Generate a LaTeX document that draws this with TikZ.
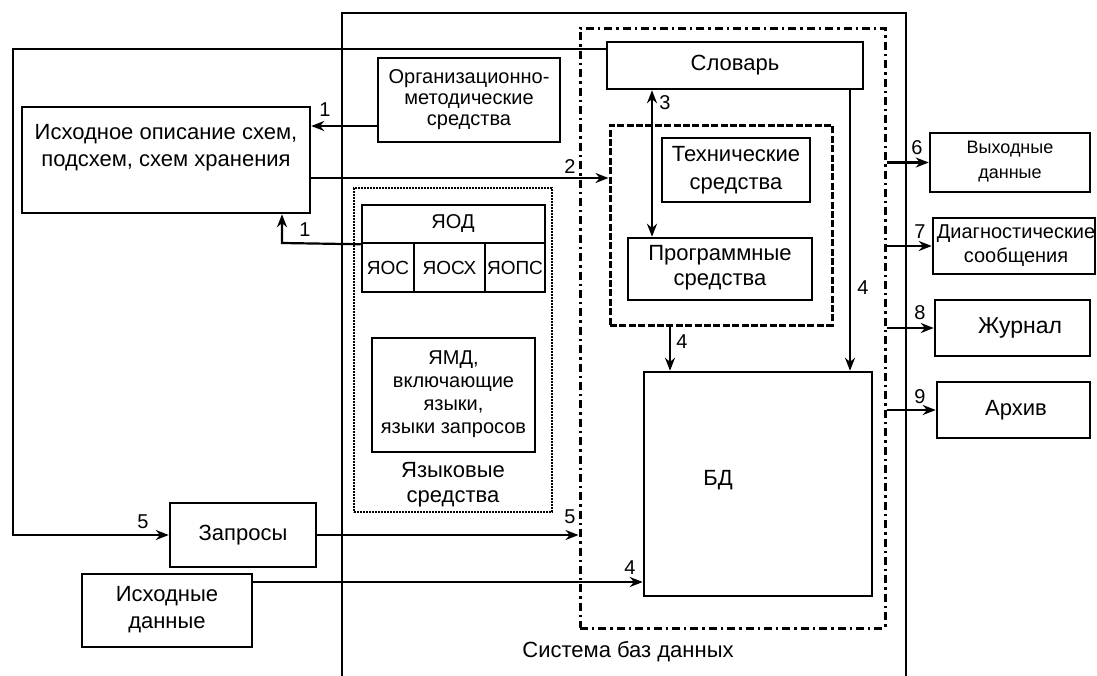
\documentclass[tikz,border=0pt]{standalone}
\usepackage{fontspec}
\setmainfont{Liberation Sans}
\usetikzlibrary{fit,arrows.meta}
\begin{document}
\begin{tikzpicture}[x=0.5pt,y=-0.5pt,
  box/.style={draw, line width=1.25pt, inner sep=0pt, align=center},
  ddbox/.style={draw, line width=1.5pt, inner sep=0pt, dash pattern=on 4pt off 2pt on 1.2pt off 2pt},
  dashbox/.style={draw, line width=1.5pt, inner sep=0pt, dash pattern=on 3.5pt off 1.2pt},
  dotbox/.style={draw, line width=1.2pt, inner sep=0pt, dash pattern=on 0.8pt off 0.7pt},
  conn/.style={line width=1.1pt},
  arr/.style={conn, -{Stealth[length=6.5pt,width=5pt]}},
  darr/.style={conn, {Stealth[length=6.5pt,width=5pt]}-{Stealth[length=6.5pt,width=5pt]}},
  num/.style={font=\fontsize{10}{12}\selectfont, inner sep=0pt},
  fl/.style={font=\fontsize{11}{13.5}\selectfont, align=center},
  fm/.style={font=\fontsize{10}{12}\selectfont, align=center},
  fsm/.style={font=\fontsize{9.5}{12.5}\selectfont, align=center},
]
\useasboundingbox (0,0) rectangle (1097,675);

% containers
\node[box, fit={(342,13) (906,700)}] (sys) {};
\node[ddbox, fit={(580,28) (885,628)}] (dd) {};
\node[dashbox, fit={(610,125) (832,325)}] (dsh) {};
\node[dotbox, fit={(354,188) (552,512)}] (lang) {};

% left side boxes
\node[box, fit={(22,107) (310,213)}] (isx) {};
\node[fl] (isxt) at (166,148) {Исходное описание схем,\\подсхем, схем хранения};
\node[box, fm, fit={(378,58) (560,142)}] (org) {};
\node[fm] (orgt) at (469,100) {Организационно-\\[-1.5pt]методические\\[-1.5pt]средства};
\node[box, fit={(170,503) (316,567)}] (zap) {};
\node[fl] (zapt) at (243,535) {Запросы};
\node[box, fit={(82,574) (252,647)}] (isd) {};
\node[fl] (isdt) at (167,610) {Исходные\\данные};

% language means
\node[box, fit={(362,205) (545,243)}] (yod) {};
\node[fm] (yodt) at (453,224) {ЯОД};
\node[box, fit={(362,243) (414,292)}] (yos) {};
\node[fsm] (yost) at (388,268) {ЯОС};
\node[box, fit={(414,243) (485,292)}] (yosx) {};
\node[fsm] (yosxt) at (449.5,268) {ЯОСХ};
\node[box, fit={(485,243) (545,292)}] (yops) {};
\node[fsm] (yopst) at (515,268) {ЯОПС};
\node[box, fit={(372,338) (535,452)}] (ymd) {};
\node[font=\fontsize{10}{11.5}\selectfont, align=center] (ymdt) at (453.5,394) {ЯМД,\\включающие\\языки,\\языки запросов};
\node[font=\fontsize{11}{12.5}\selectfont, align=center] (langt) at (453,485) {Языковые\\средства};

% database system core
\node[box, fit={(607,42) (863,89)}] (slov) {};
\node[fl] (slovt) at (735,65) {Словарь};
\node[box, fit={(662,138) (810,202)}] (tech) {};
\node[font=\fontsize{11}{14}\selectfont, align=center] (techt) at (736,170) {Технические\\средства};
\node[box, fit={(628,238) (812,300)}] (prog) {};
\node[font=\fontsize{11}{12.5}\selectfont, align=center] (progt) at (720,268) {Программные\\средства};
\node[box, fit={(644,372) (872,596)}] (bd) {};
\node[fl] (bdt) at (718,480) {БД};
\node[fl] (syst) at (628,652) {Система баз данных};

% outputs
\node[box, fit={(930,133) (1090,192)}] (vyh) {};
\node[font=\fontsize{9}{12.5}\selectfont, align=center] (vyht) at (1010,162) {Выходные\\данные};
\node[box, fit={(933,218) (1095,274)}] (diag) {};
\node[fm] (diagt) at (1016,246) {Диагностические\\сообщения};
\node[box, fit={(935,300) (1090,356)}] (jur) {};
\node[font=\fontsize{11.5}{13}\selectfont] (jurt) at (1020,328) {Журнал};
\node[box, fit={(937,382) (1090,438)}] (arh) {};
\node[fl] (arht) at (1016,410) {Архив};

% helper coordinates
\coordinate (c49) at (13,49);
\coordinate (c535) at (13,535);
\coordinate (c126) at (0,126);
\coordinate (c178) at (0,178);
\coordinate (c582) at (0,582);
\coordinate (x652) at (652,0);
\coordinate (x670) at (670,0);
\coordinate (x850) at (850,0);
\coordinate (k1) at (282,243);

% connectors
\draw[arr] (slov.west |- c49) -- (c49) -- (c535) -- (zap.west);
\node[num] (n5a) at (143,522) {5};
\draw[arr] (org.west |- c126) -- (isx.east |- c126);
\node[num] (n1a) at (325,110) {1};
\draw[arr] (yod.south west) -- (k1) -- (isx.south -| k1);
\node[num] (n1b) at (305,230) {1};
\draw[arr] (isx.east |- c178) -- (dsh.west |- c178);
\node[num] (n2) at (570,167) {2};
\draw[darr] (slov.south -| x652) -- (prog.north -| x652);
\node[num] (n3) at (665,103) {3};
\draw[arr] (slov.south -| x850) -- (bd.north -| x850);
\node[num] (n4a) at (863,288) {4};
\draw[arr] (dsh.south -| x670) -- (bd.north -| x670);
\node[num] (n4b) at (682,342) {4};
\draw[arr] (isd.east |- c582) -- (bd.west |- c582);
\node[num] (n4c) at (630,568) {4};
\draw[arr] (zap.east) -- (dd.west |- zap.east);
\node[num] (n5b) at (570,517) {5};
\draw[arr] (dd.east |- vyh.west) -- (vyh.west);
\node[num] (n6) at (917,148) {6};
\draw[arr] (dd.east |- diag.west) -- (diag.west);
\node[num] (n7) at (920,232) {7};
\draw[arr] (dd.east |- jur.west) -- (jur.west);
\node[num] (n8) at (920,313) {8};
\draw[arr] (dd.east |- arh.west) -- (arh.west);
\node[num] (n9) at (920,397) {9};
\end{tikzpicture}
\end{document}
